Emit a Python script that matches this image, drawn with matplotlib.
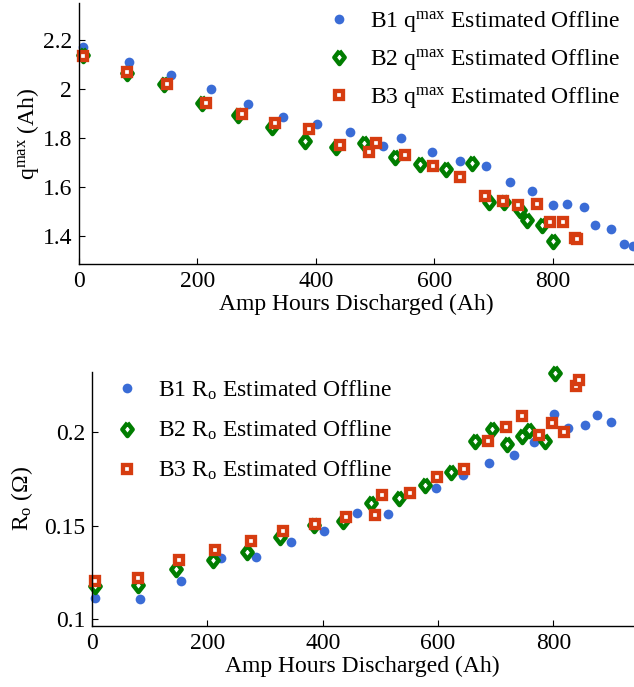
import matplotlib
matplotlib.use("Agg")
import matplotlib.pyplot as plt
from matplotlib.ticker import FormatStrFormatter

plt.rcParams['font.family'] = ['Liberation Serif', 'DejaVu Serif']
plt.rcParams['mathtext.fontset'] = 'custom'
plt.rcParams['mathtext.rm'] = 'Liberation Serif'
plt.rcParams['mathtext.it'] = 'Liberation Serif:italic'
plt.rcParams['font.size'] = 17

# capacity (q max) estimates
b1_q_ah = [6, 84, 155, 223, 285, 344, 402, 458, 513, 543, 596, 644, 687, 728, 765, 800, 824, 852, 872, 898, 920, 935]
b1_q = [2.169, 2.111, 2.056, 1.999, 1.938, 1.886, 1.858, 1.823, 1.767, 1.799, 1.742, 1.705, 1.687, 1.619, 1.585, 1.527, 1.531, 1.518, 1.444, 1.430, 1.366, 1.360]
b2_q_ah = [6, 81, 144, 208, 268, 326, 382, 434, 482, 533, 576, 619, 663, 692, 718, 744, 756, 781, 800]
b2_q = [2.139, 2.064, 2.020, 1.944, 1.894, 1.846, 1.789, 1.763, 1.781, 1.722, 1.693, 1.675, 1.697, 1.539, 1.539, 1.506, 1.464, 1.445, 1.378]
b3_q_ah = [6, 81, 149, 214, 276, 331, 389, 440, 489, 501, 551, 598, 644, 685, 716, 742, 773, 795, 817, 838, 841]
b3_q = [2.132, 2.067, 2.018, 1.943, 1.897, 1.860, 1.835, 1.773, 1.742, 1.780, 1.729, 1.687, 1.640, 1.565, 1.543, 1.525, 1.531, 1.458, 1.456, 1.393, 1.388]

# internal resistance (R o) estimates
b1_r_ah = [6, 84, 155, 223, 285, 345, 403, 460, 513, 549, 597, 644, 689, 731, 767, 801, 826, 854, 875, 900]
b1_r = [0.1111, 0.1106, 0.1204, 0.1326, 0.1332, 0.1412, 0.1471, 0.1566, 0.1564, 0.1674, 0.1704, 0.1769, 0.1837, 0.1876, 0.1948, 0.2097, 0.2025, 0.2039, 0.2091, 0.2054]
b2_r_ah = [6, 79, 146, 209, 269, 326, 385, 435, 484, 533, 578, 622, 664, 694, 720, 746, 758, 785, 802]
b2_r = [0.1174, 0.1181, 0.1265, 0.1317, 0.1360, 0.1441, 0.1505, 0.1527, 0.1620, 0.1647, 0.1717, 0.1787, 0.1955, 0.2020, 0.1935, 0.1982, 0.2012, 0.1953, 0.2316]
b3_r_ah = [6, 79, 150, 214, 276, 331, 387, 441, 491, 502, 552, 599, 645, 687, 718, 746, 775, 797, 818, 840, 845]
b3_r = [0.1203, 0.1220, 0.1313, 0.1369, 0.1418, 0.1473, 0.1511, 0.1547, 0.1559, 0.1665, 0.1674, 0.1758, 0.1805, 0.1953, 0.2027, 0.2086, 0.1984, 0.2050, 0.2000, 0.2247, 0.2280]

blue = '#3a6cd6'
green = '#007d00'
red = '#d63c10'
diamond = [(0, 1), (0.78, 0), (0, -1), (-0.78, 0), (0, 1)]

fig = plt.figure(figsize=(6.34, 6.87), dpi=100)
ax1 = fig.add_axes([79 / 634, 1 - 264 / 687, 555 / 634, 261 / 687])
ax2 = fig.add_axes([92 / 634, 1 - 626 / 687, 541 / 634, 254 / 687])


def style(ax):
    for s in ['top', 'right']:
        ax.spines[s].set_visible(False)
    for s in ['left', 'bottom']:
        ax.spines[s].set_linewidth(1.0)
    ax.tick_params(direction='in', length=4, width=0.8, pad=5)
    ax.set_xticks([0, 200, 400, 600, 800])
    ax.yaxis.set_major_formatter(FormatStrFormatter('%g'))


def scatter3(ax, xs, ys, labels):
    ax.plot(xs[0], ys[0], 'o', ls='none', color=blue, ms=7, mew=0, label=labels[0], clip_on=False)
    ax.plot(xs[1], ys[1], marker=diamond, ls='none', mfc='white', mec=green, ms=9.5, mew=3.2,
            label=labels[1], clip_on=False)
    ax.plot(xs[2], ys[2], 's', ls='none', mfc='white', mec=red, ms=5.2, mew=3.1,
            label=labels[2], clip_on=False)


scatter3(ax1, [b1_q_ah, b2_q_ah, b3_q_ah], [b1_q, b2_q, b3_q],
         [r'B1 q$^{\mathrm{max}}$ Estimated Offline',
          r'B2 q$^{\mathrm{max}}$ Estimated Offline',
          r'B3 q$^{\mathrm{max}}$ Estimated Offline'])
ax1.set_xlim(0, 937)
ax1.set_ylim(1.286, 2.35)
ax1.set_yticks([1.4, 1.6, 1.8, 2.0, 2.2])
style(ax1)
ax1.set_xlabel('Amp Hours Discharged (Ah)', labelpad=1)
ax1.set_ylabel(r'q$^{\mathrm{max}}$ (Ah)')
ax1.yaxis.set_label_coords(-0.068, 0.5)
ax1.legend(loc='upper right', bbox_to_anchor=(1.0, 1.03), frameon=False, numpoints=1,
           handlelength=1.0, handletextpad=0.8, labelspacing=0.55, borderaxespad=0.2)

scatter3(ax2, [b1_r_ah, b2_r_ah, b3_r_ah], [b1_r, b2_r, b3_r],
         [r'B1 R$_{\mathrm{o}}$ Estimated Offline',
          r'B2 R$_{\mathrm{o}}$ Estimated Offline',
          r'B3 R$_{\mathrm{o}}$ Estimated Offline'])
ax2.set_xlim(0, 938)
ax2.set_ylim(0.0962, 0.2323)
ax2.set_yticks([0.1, 0.15, 0.2])
style(ax2)
ax2.set_xlabel('Amp Hours Discharged (Ah)', labelpad=1)
ax2.set_ylabel(r'R$_{\mathrm{o}}$ ($\Omega$)')
ax2.yaxis.set_label_coords(-0.105, 0.5)
ax2.legend(loc='upper left', bbox_to_anchor=(0.017, 1.03), frameon=False, numpoints=1,
           handlelength=1.0, handletextpad=0.8, labelspacing=0.72, borderaxespad=0.2)

fig.savefig('out.png', dpi=100)
